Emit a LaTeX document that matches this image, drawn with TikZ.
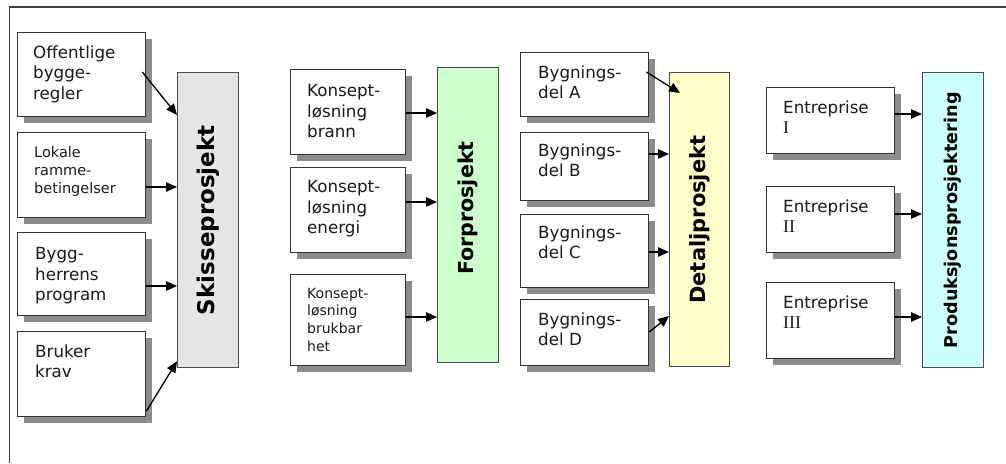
\documentclass[tikz,border=0pt]{standalone}
\usepackage{fontspec}
\setmainfont{DejaVu Sans}
\newfontfamily\romnum{Liberation Serif}
\usetikzlibrary{arrows.meta,calc,shadows}
\definecolor{skfill}{HTML}{E6E6E6}
\definecolor{fpfill}{HTML}{CCFFCC}
\definecolor{dpfill}{HTML}{FFFFCC}
\definecolor{ppfill}{HTML}{CCFFFF}
\definecolor{txtcol}{HTML}{1A1A1A}
\begin{document}
\begin{tikzpicture}[x=1pt,y=-1pt,
  inbox/.style={draw=black!80, line width=1.3pt, fill=white, inner sep=0pt, anchor=north west,
    drop shadow={shadow xshift=6pt, shadow yshift=-6pt, fill=black!45, opacity=1}},
  bigbox/.style={draw=black!70, line width=1.3pt, inner sep=0pt, anchor=north west},
  txt/.style={anchor=north west, inner sep=0pt, align=left, text=txtcol,
    font=\fontsize{16.7}{20.5}\selectfont},
  txtsmall/.style={anchor=north west, inner sep=0pt, align=left, text=txtcol,
    font=\fontsize{14.5}{18.3}\selectfont},
  vlabel/.style={rotate=90, text=black, inner sep=0pt},
  arr/.style={line width=1.3pt, draw=black, -{Triangle[length=11pt,width=9.5pt]}},
  frame/.style={draw=black!75, line width=1.3pt},
  rn/.style={font=\romnum\fontsize{18}{20.5}\selectfont}
]
\useasboundingbox (0,0) rectangle (1006,463);
\coordinate (fbot) at (9.5,463);
\coordinate (ftl) at (9.5,7);
\coordinate (fright) at (1006,7);
\draw[frame] (fbot) -- (ftl) -- (fright);

% ---- column 1
\node[inbox, minimum width=128pt, minimum height=84pt] (b1) at (17,32) {};
\node[inbox, minimum width=128pt, minimum height=85pt] (b2) at (17,132) {};
\node[inbox, minimum width=128pt, minimum height=83pt] (b3) at (17,232) {};
\node[inbox, minimum width=128pt, minimum height=85pt] (b4) at (17,331) {};
\node[txt] (b1t) at ($(b1.north west)+(16,11.5)$) {\strut Offentlige\\bygge-\\regler};
\node[txtsmall] (b2t) at ($(b2.north west)+(17,12.2)$) {\strut Lokale\\ramme-\\betingelser};
\node[txt] (b3t) at ($(b3.north west)+(18,13)$) {\strut Bygg-\\herrens\\program};
\node[txt] (b4t) at ($(b4.north west)+(18,11.5)$) {\strut Bruker\\krav};
\node[bigbox, fill=skfill, minimum width=61pt, minimum height=295pt] (sk) at (177,72) {};
\node[vlabel, font=\fontsize{23}{27}\selectfont\bfseries] (skt) at (sk.center) {Skisseprosjekt};

% ---- column 2
\node[inbox, minimum width=115pt, minimum height=85pt] (k1) at (290,69) {};
\node[inbox, minimum width=115pt, minimum height=85pt] (k2) at (290,167) {};
\node[inbox, minimum width=115pt, minimum height=91pt] (k3) at (290,274) {};
\node[txt] (k1t) at ($(k1.north west)+(17,13)$) {\strut Konsept-\\løsning\\brann};
\node[txt] (k2t) at ($(k2.north west)+(17,11)$) {\strut Konsept-\\løsning\\energi};
\node[txtsmall, font=\fontsize{14}{17.7}\selectfont] (k3t) at ($(k3.north west)+(17,11.6)$) {\strut Konsept-\\løsning\\brukbar\\het};
\node[bigbox, fill=fpfill, minimum width=61pt, minimum height=295pt] (fp) at (437,67) {};
\node[vlabel, font=\fontsize{20.6}{24}\selectfont\bfseries] (fpt) at ($(fp.center)+(0,-7)$) {Forprosjekt};

% ---- column 3
\node[inbox, minimum width=128pt, minimum height=64pt] (bA) at (520,52) {};
\node[inbox, minimum width=128pt, minimum height=68pt] (bB) at (520,132) {};
\node[inbox, minimum width=128pt, minimum height=73pt] (bC) at (520,214) {};
\node[inbox, minimum width=128pt, minimum height=66pt] (bD) at (520,299) {};
\node[txt] (bAt) at ($(bA.north west)+(18,11.5)$) {\strut Bygnings-\\del A};
\node[txt] (bBt) at ($(bB.north west)+(18,9.5)$) {\strut Bygnings-\\del B};
\node[txt] (bCt) at ($(bC.north west)+(18,9.5)$) {\strut Bygnings-\\del C};
\node[txt] (bDt) at ($(bD.north west)+(18,11.5)$) {\strut Bygnings-\\del D};
\node[bigbox, fill=dpfill, minimum width=60pt, minimum height=294pt] (dp) at (669,72) {};
\node[vlabel, font=\fontsize{21}{25}\selectfont\bfseries] (dpt) at (dp.center) {Detaljprosjekt};

% ---- column 4
\node[inbox, minimum width=128pt, minimum height=66pt] (e1) at (766,87) {};
\node[inbox, minimum width=128pt, minimum height=66pt] (e2) at (766,186) {};
\node[inbox, minimum width=128pt, minimum height=76pt] (e3) at (766,282) {};
\node[txt] (e1t) at ($(e1.north west)+(17,11.5)$) {\strut Entreprise\\{\romnum\fontsize{18}{20.5}\selectfont I}};
\node[txt] (e2t) at ($(e2.north west)+(17,11.5)$) {\strut Entreprise\\{\romnum\fontsize{18}{20.5}\selectfont II}};
\node[txt] (e3t) at ($(e3.north west)+(17,11.5)$) {\strut Entreprise\\{\romnum\fontsize{18}{20.5}\selectfont III}};
\node[bigbox, fill=ppfill, minimum width=61pt, minimum height=295pt] (pp) at (922,72) {};
\node[vlabel, font=\fontsize{17.6}{21}\selectfont\bfseries] (ppt) at (pp.center) {Produksjonsprosjektering};

% ---- arrows column 1
\draw[arr] ($(b1.north east)+(-4,40)$) -- ($(sk.north west)+(0,43)$);
\coordinate (a2) at ($(b2.north east)+(0,55)$);
\draw[arr] (a2) -- (a2 -| sk.west);
\coordinate (a3) at ($(b3.north east)+(0,54)$);
\draw[arr] (a3) -- (a3 -| sk.west);
\draw[arr] ($(b4.south east)+(0,-6)$) -- ($(sk.south west)+(0,-7)$);

% ---- arrows column 2
\coordinate (c1) at ($(k1.north east)+(0,44)$);
\draw[arr] (c1) -- (c1 -| fp.west);
\coordinate (c2) at ($(k2.north east)+(0,35)$);
\draw[arr] (c2) -- (c2 -| fp.west);
\coordinate (c3) at ($(k3.north east)+(0,43)$);
\draw[arr] (c3) -- (c3 -| fp.west);

% ---- arrows column 3
\draw[arr] ($(bA.north east)+(-3,20)$) -- ($(dp.north west)+(11,21)$);
\coordinate (d2) at ($(bB.north east)+(0,22)$);
\draw[arr] (d2) -- (d2 -| dp.west);
\coordinate (d3) at ($(bC.north east)+(0,38)$);
\draw[arr] (d3) -- (d3 -| dp.west);
\draw[arr] ($(bD.north east)+(0,33)$) -- ($(dp.north west)+(0,244)$);

% ---- arrows column 4
\coordinate (f1) at ($(e1.north east)+(0,27)$);
\draw[arr] (f1) -- (f1 -| pp.west);
\coordinate (f2) at ($(e2.north east)+(0,28)$);
\draw[arr] (f2) -- (f2 -| pp.west);
\coordinate (f3) at ($(e3.north east)+(0,35)$);
\draw[arr] (f3) -- (f3 -| pp.west);
\end{tikzpicture}
\end{document}
